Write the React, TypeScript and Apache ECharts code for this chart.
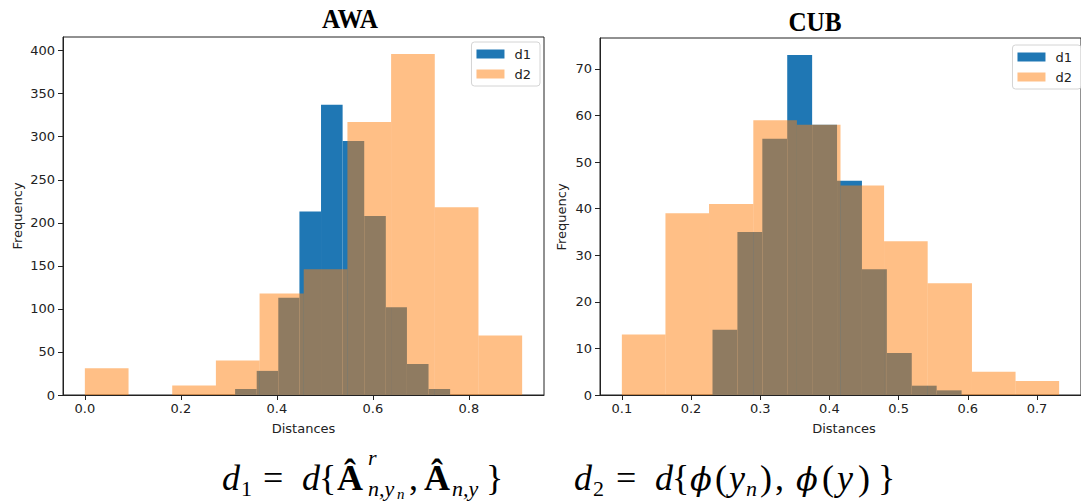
import React, { useEffect, useRef } from 'react';
import * as echarts from 'echarts';

// ---- data ----
const awaD1Edges = [0.313, 0.358, 0.403, 0.447, 0.492, 0.537, 0.582, 0.627, 0.671, 0.716, 0.761];
const awaD1Counts = [7, 28, 113, 213, 337, 295, 208, 102, 36, 7];
const awaD2Edges = [0, 0.091, 0.182, 0.273, 0.364, 0.456, 0.547, 0.638, 0.729, 0.82, 0.911];
const awaD2Counts = [31, 0, 11, 40, 118, 146, 317, 396, 218, 69];

const cubD1Edges = [0.231, 0.267, 0.303, 0.339, 0.375, 0.411, 0.447, 0.483, 0.519, 0.555, 0.591];
const cubD1Counts = [14, 35, 55, 73, 58, 46, 27, 9, 2, 1];
const cubD2Edges = [0.1, 0.163, 0.226, 0.29, 0.353, 0.416, 0.479, 0.542, 0.606, 0.669, 0.732];
const cubD2Counts = [13, 39, 41, 59, 58, 45, 33, 24, 5, 3];

const awaXTicks = [0, 0.2, 0.4, 0.6, 0.8];
const awaYTicks = [0, 50, 100, 150, 200, 250, 300, 350, 400];
const cubXTicks = [0.1, 0.2, 0.3, 0.4, 0.5, 0.6, 0.7];
const cubYTicks = [0, 10, 20, 30, 40, 50, 60, 70];

const seriesNames = ['d1', 'd2'];
const panelTitles = ['AWA', 'CUB'];
const xAxisName = 'Distances';
const yAxisName = 'Frequency';

const BLUE = '#1f77b4';
const ORANGE = '#ff7f0e';
const INK = '#222222';
const SANS = 'DejaVu Sans';
const MATH = 'Liberation Serif';

function histSeries(name: string, edges: number[], counts: number[], axisIndex: number, fill: string, opacity: number) {
  const data = counts.map((c, i) => [edges[i], edges[i + 1], c]);
  return {
    type: 'custom',
    name,
    xAxisIndex: axisIndex,
    yAxisIndex: axisIndex,
    data,
    encode: { x: [0, 1], y: 2 },
    itemStyle: { color: fill, opacity },
    z: 2,
    renderItem: (params: any, api: any) => {
      const p0 = api.coord([api.value(0), api.value(2)]);
      const p1 = api.coord([api.value(1), 0]);
      return {
        type: 'rect',
        shape: { x: p0[0], y: p0[1], width: p1[0] - p0[0], height: p1[1] - p0[1] },
        style: { fill, opacity },
      };
    },
  };
}

function extentWithMargin(edges1: number[], edges2: number[]) {
  const lo = Math.min(edges1[0], edges2[0]);
  const hi = Math.max(edges1[edges1.length - 1], edges2[edges2.length - 1]);
  const m = (hi - lo) * 0.05;
  return [lo - m, hi + m];
}

function xAxisCfg(gridIndex: number, ext: number[], ticks: number[]) {
  return {
    type: 'value',
    gridIndex,
    min: ext[0],
    max: ext[1],
    z: 5,
    splitLine: { show: false },
    axisLine: { show: true, onZero: false, lineStyle: { color: INK, width: 1 } },
    axisTick: { show: true, customValues: ticks, length: 5, lineStyle: { color: INK } },
    axisLabel: {
      customValues: ticks,
      formatter: (v: number) => v.toFixed(1),
      color: INK,
      fontFamily: SANS,
      fontSize: 13,
      margin: 7,
    },
  };
}

function yAxisCfg(gridIndex: number, max: number, ticks: number[]) {
  return {
    type: 'value',
    gridIndex,
    min: 0,
    max,
    z: 5,
    splitLine: { show: false },
    axisLine: { show: true, onZero: false, lineStyle: { color: INK, width: 1 } },
    axisTick: { show: true, customValues: ticks, length: 5, lineStyle: { color: INK } },
    axisLabel: {
      customValues: ticks,
      formatter: (v: number) => String(v),
      color: INK,
      fontFamily: SANS,
      fontSize: 13,
      margin: 8,
    },
  };
}

function legendCfg(pos: any) {
  return {
    ...pos,
    orient: 'vertical',
    icon: 'rect',
    itemWidth: 28,
    itemHeight: 9,
    itemGap: 6,
    padding: [5, 9, 5, 5],
    borderColor: '#d4d4d4',
    borderWidth: 1,
    borderRadius: 3,
    backgroundColor: 'rgba(255,255,255,0.8)',
    selectedMode: false,
    textStyle: { fontFamily: SANS, fontSize: 13, color: INK, padding: [0, 0, 0, 5], lineHeight: 14 },
    data: [
      { name: seriesNames[0], itemStyle: { color: BLUE, opacity: 1 } },
      { name: seriesNames[1], itemStyle: { color: '#ffbf86', opacity: 1 } },
    ],
  };
}

function mathText(text: string, x: number, base: number, fs: number, italic = false, bold = false, family = MATH) {
  return {
    type: 'text',
    x,
    y: base - 0.34 * fs,
    silent: true,
    style: {
      text,
      fontFamily: family,
      fontSize: fs,
      fontStyle: italic ? 'italic' : 'normal',
      fontWeight: bold ? 'bold' : 'normal',
      fill: '#000',
      align: 'left',
      verticalAlign: 'middle',
    },
  };
}

function plainText(text: string, x: number, y: number, fs: number, rotation = 0) {
  return {
    type: 'text',
    x,
    y,
    rotation,
    silent: true,
    style: { text, fontFamily: SANS, fontSize: fs, fill: INK, align: 'center', verticalAlign: 'middle' },
  };
}

function titleText(text: string, x: number, y: number) {
  return {
    type: 'text',
    x,
    y,
    scaleX: 0.9,
    silent: true,
    style: {
      text,
      fontFamily: MATH,
      fontSize: 28,
      fontWeight: 'bold',
      fill: '#000',
      align: 'center',
      verticalAlign: 'middle',
    },
  };
}

export default function App() {
  const ref = useRef<HTMLDivElement>(null);
  useEffect(() => {
    if (!ref.current) return;
    const chart = echarts.init(ref.current, undefined, { renderer: 'svg' });
    const awaExt = extentWithMargin(awaD1Edges, awaD2Edges);
    const cubExt = extentWithMargin(cubD1Edges, cubD2Edges);
    const awaYMax = Math.max(...awaD1Counts, ...awaD2Counts) * 1.05;
    const cubYMax = Math.max(...cubD1Counts, ...cubD2Counts) * 1.05;

    const B = 490; // formula baseline
    const F = 36;
    const S = 22;
    const SS = 15;
    const PHI = 'DejaVu Serif';
    const formula: any[] = [
      // d1 = d{ Â^r_{n,y_n}, Â_{n,y} }
      mathText('d', 222, B, F, true),
      mathText('1', 241, B + 6, S),
      mathText('=', 263, B, F),
      mathText('d', 302, B, F, true),
      mathText('{', 319, B, F),
      mathText('Â', 337, B, F, false, true),
      mathText('r', 368, B - 25, S, true),
      mathText('n,y', 368, B + 6, S, true),
      mathText('n', 397, B + 9, SS, true),
      mathText(',', 409, B, F),
      mathText('Â', 424, B, F, false, true),
      mathText('n,y', 452, B + 6, S, true),
      mathText('}', 486, B, F),
      // d2 = d{ ϕ(y_n), ϕ(y) }
      mathText('d', 574, B, F, true),
      mathText('2', 593, B + 6, S),
      mathText('=', 616, B, F),
      mathText('d', 655, B, F, true),
      mathText('{', 672, B, F),
      mathText('ϕ', 690, B, F - 4, true, false, PHI),
      mathText('(', 715, B, F),
      mathText('y', 729, B, F, true),
      mathText('n', 746, B + 6, S, true),
      mathText(')', 760, B, F),
      mathText(',', 775, B, F),
      mathText('ϕ', 796, B, F - 4, true, false, PHI),
      mathText('(', 822, B, F),
      mathText('y', 837, B, F, true),
      mathText(')', 858, B, F),
      mathText('}', 878, B, F),
    ];

    const option: any = {
      animation: false,
      backgroundColor: '#ffffff',
      grid: [
        { left: 63, top: 37, width: 481, height: 358, show: true, borderColor: INK, borderWidth: 1, backgroundColor: 'transparent' },
        { left: 600, top: 38, width: 489, height: 357, show: true, borderColor: INK, borderWidth: 1, backgroundColor: 'transparent' },
      ],
      xAxis: [xAxisCfg(0, awaExt, awaXTicks), xAxisCfg(1, cubExt, cubXTicks)],
      yAxis: [yAxisCfg(0, awaYMax, awaYTicks), yAxisCfg(1, cubYMax, cubYTicks)],
      legend: [legendCfg({ right: 541, top: 42 }), legendCfg({ right: 0, top: 45 })],
      series: [
        histSeries(seriesNames[0], awaD1Edges, awaD1Counts, 0, BLUE, 1),
        histSeries(seriesNames[1], awaD2Edges, awaD2Counts, 0, ORANGE, 0.5),
        histSeries(seriesNames[0], cubD1Edges, cubD1Counts, 1, BLUE, 1),
        histSeries(seriesNames[1], cubD2Edges, cubD2Counts, 1, ORANGE, 0.5),
      ],
      graphic: [
        titleText(panelTitles[0], 350, 19),
        titleText(panelTitles[1], 815, 22),
        plainText(yAxisName, 17, 216, 13, Math.PI / 2),
        plainText(yAxisName, 561, 217, 13, Math.PI / 2),
        plainText(xAxisName, 303.5, 428, 13),
        plainText(xAxisName, 844, 428, 13),
        ...formula,
      ],
    };
    chart.setOption(option);
    return () => chart.dispose();
  }, []);
  return (
    <div
      ref={ref}
      style={{ position: 'absolute', left: 0, top: 0, width: 1081, height: 503, background: '#fff' }}
    />
  );
}
